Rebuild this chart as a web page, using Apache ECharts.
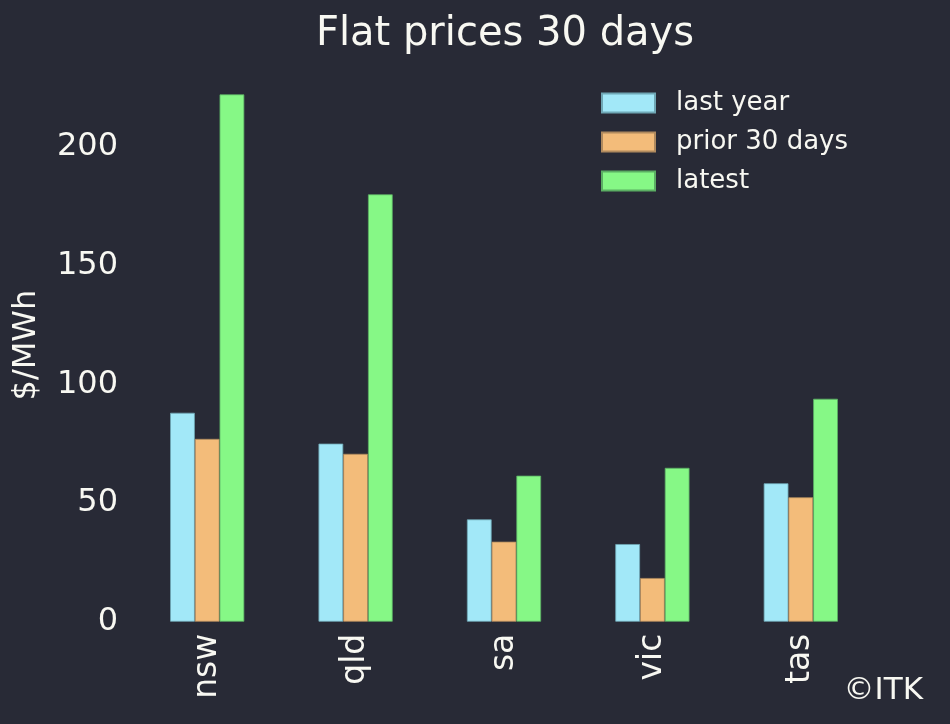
<!DOCTYPE html>
<html>
<head>
<meta charset="utf-8">
<script src="https://cdn.jsdelivr.net/npm/echarts@6/dist/echarts.min.js"></script>
<style>
html,body{margin:0;padding:0;background:#282a36;}
#chart{width:950px;height:724px;}
</style>
</head>
<body>
<div id="chart"></div>
<script>
const categories = ['nsw', 'qld', 'sa', 'vic', 'tas'];
const lastYear = [88, 75, 43.1, 32.7, 58.3];
const prior30 = [77, 70.7, 33.7, 18.4, 52.4];
const latest = [222.1, 180, 61.5, 64.8, 93.9];
const yTicks = [0, 50, 100, 150, 200];

const FONT = '"DejaVu Sans", sans-serif';
const TXT = '#f8f8f2';
const chart = echarts.init(document.getElementById('chart'), null, {renderer: 'canvas'});

function barSeries(name, data, color, border) {
  return {
    name: name, type: 'bar', data: data,
    barGap: '0%', barCategoryGap: '50%',
    itemStyle: {color: color, borderColor: border, borderWidth: 0.8},
    emphasis: {disabled: true}
  };
}

chart.setOption({
  backgroundColor: '#282a36',
  animation: false,
  textStyle: {fontFamily: FONT, color: TXT},
  title: {
    text: 'Flat prices 30 days',
    left: 500, textAlign: 'center', top: 10,
    textStyle: {fontFamily: FONT, color: TXT, fontSize: 40, fontWeight: 'normal'}
  },
  legend: {
    orient: 'vertical',
    left: 596, top: 85,
    itemWidth: 53, itemHeight: 19, itemGap: 13,
    icon: 'rect',
    textStyle: {fontFamily: FONT, color: TXT, fontSize: 26, padding: [0, 0, 0, 16]},
    data: ['last year', 'prior 30 days', 'latest']
  },
  grid: {left: 133, right: 75, top: 68.5, bottom: 102.3, containLabel: false, outerBoundsMode: 'none'},
  xAxis: {
    type: 'category', data: categories,
    axisLine: {show: false}, axisTick: {show: false}, splitLine: {show: false},
    axisLabel: {rotate: 90, fontSize: 33, color: TXT, fontFamily: FONT, margin: 12}
  },
  yAxis: {
    type: 'value', min: 0, max: 233, interval: 50,
    name: '$/MWh', nameLocation: 'middle', nameGap: 90, nameRotate: 90,
    nameTextStyle: {fontFamily: FONT, color: TXT, fontSize: 32},
    axisLine: {show: false}, axisTick: {show: false}, splitLine: {show: false},
    axisLabel: {
      fontSize: 32, color: TXT, fontFamily: FONT, margin: 15,
      formatter: function (v) { return yTicks.indexOf(v) >= 0 ? String(v) : ''; }
    }
  },
  graphic: [{
    type: 'text', right: 27, top: 675,
    style: {text: '©ITK', fill: TXT, font: '31px "DejaVu Sans", sans-serif'}
  }],
  series: [
    barSeries('last year', lastYear, '#a2e8f8', '#6fa7b5'),
    barSeries('prior 30 days', prior30, '#f3bc7a', '#b08a5e'),
    barSeries('latest', latest, '#86f886', '#5bae63')
  ]
});
</script>
</body>
</html>
